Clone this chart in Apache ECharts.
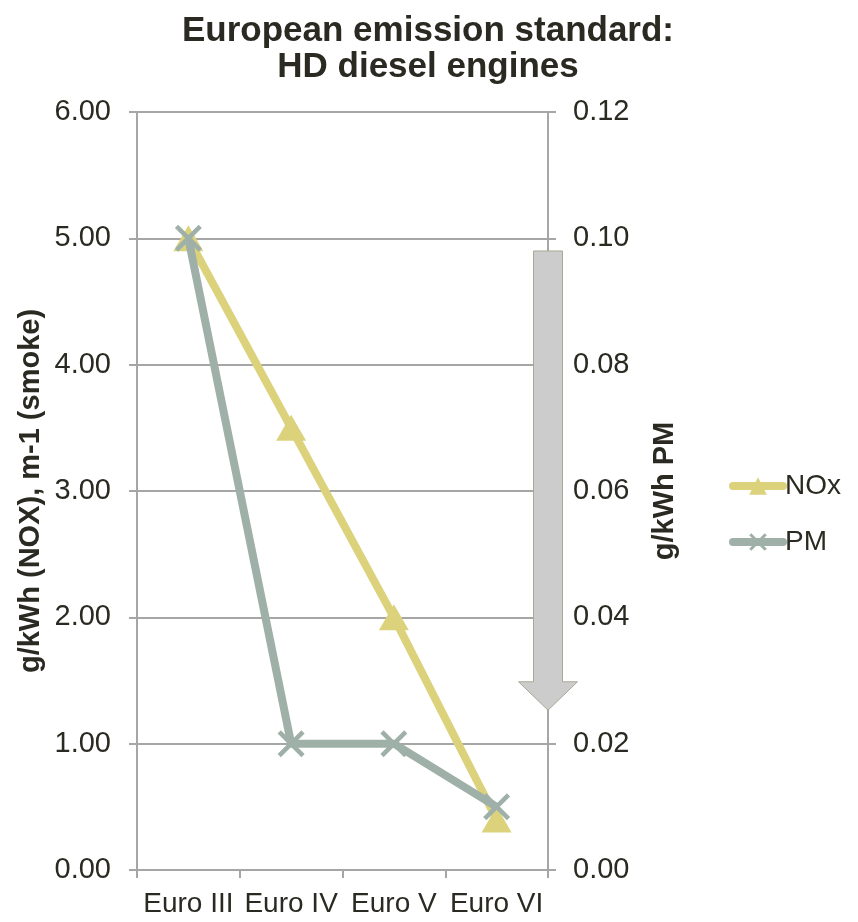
<!DOCTYPE html>
<html><head><meta charset="utf-8">
<script src="https://cdn.jsdelivr.net/npm/echarts@6/dist/echarts.min.js"></script>
<style>html,body{margin:0;padding:0;background:#fff}#c{width:858px;height:922px}</style>
</head><body><div id="c"></div>
<script>
const categories = ['Euro III', 'Euro IV', 'Euro V', 'Euro VI'];
const noxValues = [5.0, 3.5, 2.0, 0.4];
const pmValues = [0.10, 0.02, 0.02, 0.01];
const leftAxisRange = [0, 6, 1];
const rightAxisRange = [0, 0.12, 0.02];

const FONT = 'Liberation Sans, Arial, sans-serif';
const TXT = '#2b2a22';
const GRIDC = '#a6a6a6';
const NOX_C = '#dcd27c';
const PM_C = '#9fb0a9';
const xPath = 'path://M0,1.2 L1.2,0 L10,8.8 L8.8,10 Z M8.8,0 L10,1.2 L1.2,10 L0,8.8 Z';

const chart = echarts.init(document.getElementById('c'), null, {renderer: 'canvas'});
const option = {
  animation: false,
  backgroundColor: '#fff',
  title: {
    text: 'European emission standard:\nHD diesel engines',
    left: 423, top: 8, textAlign: 'center',
    textStyle: {fontFamily: FONT, fontSize: 35, fontWeight: 'bold', color: TXT, lineHeight: 36}
  },
  grid: {left: 137, right: 310, top: 112, bottom: 52, containLabel: false},
  legend: {
    orient: 'vertical', left: 724, top: 467, itemGap: 28, padding: 5,
    itemWidth: 50, itemHeight: 22,
    lineStyle: {width: 8, cap: 'round'},
    textStyle: {fontFamily: FONT, fontSize: 28, color: TXT, padding: [4,0,0,-3]},
    data: ['NOx', 'PM']
  },
  xAxis: {
    type: 'category', data: categories, boundaryGap: true,
    axisLine: {lineStyle: {color: GRIDC, width: 2}},
    axisTick: {show: true, length: 8, lineStyle: {color: GRIDC, width: 2}},
    axisLabel: {fontFamily: FONT, fontSize: 28, color: TXT, margin: 20, interval: 0}
  },
  yAxis: [{
    type: 'value', min: leftAxisRange[0], max: leftAxisRange[1], interval: leftAxisRange[2],
    name: 'g/kWh (NOX), m-1 (smoke)', nameLocation: 'middle', nameGap: 92,
    nameTextStyle: {fontFamily: FONT, fontSize: 29, fontWeight: 'bold', color: TXT},
    axisLine: {show: true, lineStyle: {color: GRIDC, width: 2}},
    axisTick: {show: true, length: 8, lineStyle: {color: GRIDC, width: 2}},
    splitLine: {show: true, lineStyle: {color: GRIDC, width: 2}},
    axisLabel: {fontFamily: FONT, fontSize: 29, color: TXT, margin: 26, formatter: v => v.toFixed(2)}
  }, {
    type: 'value', min: rightAxisRange[0], max: rightAxisRange[1], interval: rightAxisRange[2],
    position: 'right',
    name: 'g/kWh PM', nameLocation: 'middle', nameGap: 102,
    nameTextStyle: {fontFamily: FONT, fontSize: 29, fontWeight: 'bold', color: TXT},
    axisLine: {show: true, lineStyle: {color: GRIDC, width: 2}},
    axisTick: {show: true, length: 8, lineStyle: {color: GRIDC, width: 2}},
    splitLine: {show: false},
    axisLabel: {fontFamily: FONT, fontSize: 29, color: TXT, margin: 25, formatter: v => v.toFixed(2)}
  }],
  series: [{
    name: 'NOx', type: 'line', yAxisIndex: 0, data: noxValues,
    symbol: 'triangle', symbolSize: [30, 26],
    lineStyle: {color: NOX_C, width: 8},
    itemStyle: {color: NOX_C},
    z: 2
  }, {
    name: 'PM', type: 'line', yAxisIndex: 1, data: pmValues,
    symbol: xPath, symbolSize: 27,
    lineStyle: {color: PM_C, width: 8},
    itemStyle: {color: PM_C},
    z: 3
  }]
};
chart.setOption(option);

// decorative down-arrow along the right axis (positions derived from right-axis values)
const arrowTopV = 0.098, arrowNeckV = 0.0298, arrowTipV = 0.0253;
const axX = chart.getWidth() - 310;
const yTop = chart.convertToPixel({yAxisIndex: 1}, arrowTopV);
const yNeck = chart.convertToPixel({yAxisIndex: 1}, arrowNeckV);
const yTip = chart.convertToPixel({yAxisIndex: 1}, arrowTipV);
const sw = 14.5, hw = 29.5;
chart.setOption({
  graphic: [{
    type: 'polygon', z: 100,
    shape: {points: [
      [axX - sw, yTop], [axX + sw, yTop], [axX + sw, yNeck], [axX + hw, yNeck],
      [axX, yTip], [axX - hw, yNeck], [axX - sw, yNeck]
    ]},
    style: {fill: '#cccccc', stroke: '#aaa995', lineWidth: 1}
  }]
});
</script></body></html>
